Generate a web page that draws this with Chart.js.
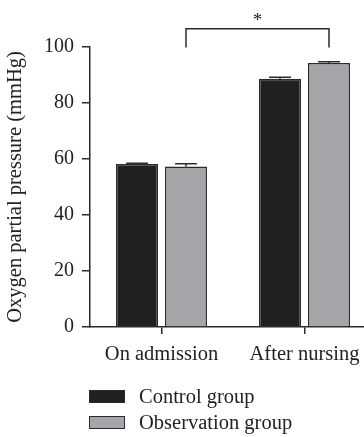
<!DOCTYPE html>
<html>
<head>
<meta charset="utf-8">
<script src="https://cdn.jsdelivr.net/npm/chart.js@4/dist/chart.umd.min.js"></script>
<style>
  html, body { margin: 0; padding: 0; background: #fff; width: 364px; height: 437px; overflow: hidden; }
  #wrap { position: relative; width: 378px; height: 437px; }
  #legend { position: absolute; left: 89px; top: 383px; font-family: "Liberation Serif", serif; font-size: 20.5px; color: #222; }
  .item { display: flex; align-items: center; height: 26px; }
  .box { width: 34px; height: 11px; border: 1.5px solid #2b2b2b; margin-right: 14px; }
</style>
</head>
<body>
<div id="wrap">
  <canvas id="c"></canvas>
  <div id="legend"></div>
</div>
<script>
const categories = ["On admission", "After nursing"];
const seriesNames = ["Control group", "Observation group"];
const controlValues = [58.2, 88.7];
const observationValues = [57.3, 94.3];
const controlErrors = [0.3, 0.5];
const observationErrors = [1.0, 0.4];
const yTicks = [0, 20, 40, 60, 80, 100];
const yTitle = "Oxygen partial pressure (mmHg)";
const significanceMark = "*";
const bracketTopValue = 106.5;
const bracketLegValue = 99.8;
const starValue = 110.5;

const colors = ["#1f2022", "#a6a5a9"];
const lineColor = "#2b2b2b";
const fontFamily = "'Liberation Serif', serif";

const errorPlugin = {
  id: 'errs',
  afterDatasetsDraw(chart) {
    const ctx = chart.ctx;
    const y = chart.scales.y;
    const errs = [controlErrors, observationErrors];
    ctx.save();
    ctx.strokeStyle = lineColor;
    ctx.lineWidth = 1.5;
    chart.data.datasets.forEach((ds, di) => {
      const meta = chart.getDatasetMeta(di);
      meta.data.forEach((bar, i) => {
        const top = y.getPixelForValue(ds.data[i]);
        const cap = y.getPixelForValue(ds.data[i] + errs[di][i]);
        const half = bar.width * 0.26;
        ctx.beginPath();
        ctx.moveTo(bar.x, top);
        ctx.lineTo(bar.x, cap);
        ctx.moveTo(bar.x - half, cap);
        ctx.lineTo(bar.x + half, cap);
        ctx.stroke();
      });
    });
    const m = chart.getDatasetMeta(1);
    const x1 = m.data[0].x, x2 = m.data[1].x;
    const yt = y.getPixelForValue(bracketTopValue);
    const yl = y.getPixelForValue(bracketLegValue);
    ctx.beginPath();
    ctx.moveTo(x1, yl);
    ctx.lineTo(x1, yt);
    ctx.lineTo(x2, yt);
    ctx.lineTo(x2, yl);
    ctx.stroke();
    ctx.fillStyle = '#222';
    ctx.font = "19px " + fontFamily;
    ctx.textAlign = 'center';
    ctx.textBaseline = 'middle';
    ctx.fillText(significanceMark, (x1 + x2) / 2, y.getPixelForValue(starValue) + 3);
    ctx.restore();
  }
};

const chart = new Chart(document.getElementById('c'), {
  type: 'bar',
  data: {
    labels: categories,
    datasets: [
      { label: seriesNames[0], data: controlValues, backgroundColor: colors[0], borderColor: lineColor, borderWidth: 1.5 },
      { label: seriesNames[1], data: observationValues, backgroundColor: colors[1], borderColor: lineColor, borderWidth: 1.5 }
    ]
  },
  options: {
    responsive: true,
    maintainAspectRatio: false,
    animation: false,
    devicePixelRatio: 1,
    layout: { padding: { top: 47, right: 2, left: 0, bottom: 0 } },
    datasets: { bar: { categoryPercentage: 0.685, barPercentage: 0.857 } },
    plugins: { legend: { display: false }, tooltip: { enabled: false } },
    scales: {
      x: {
        grid: { display: true, offset: false, drawOnChartArea: false, tickLength: 7, color: lineColor, lineWidth: 1.5 },
        border: { display: true, color: lineColor, width: 1.5 },
        ticks: { color: '#222', font: { family: fontFamily, size: 20.5 }, padding: 8 },
        afterFit(s) { s.height = 110; }
      },
      y: {
        min: 0, max: 100,
        afterBuildTicks(s) { s.ticks = yTicks.map(v => ({ value: v })); },
        grid: { drawOnChartArea: false, tickLength: 8, color: lineColor, lineWidth: 1.5 },
        border: { display: true, color: lineColor, width: 1.5 },
        ticks: { color: '#222', font: { family: fontFamily, size: 20 }, padding: 8 },
        title: { display: true, text: yTitle, color: '#222', font: { family: fontFamily, size: 20.5 }, padding: { top: 3, bottom: 0 } },
        afterFit(s) { s.width = 90; }
      }
    }
  },
  plugins: [errorPlugin]
});

const legend = document.getElementById('legend');
chart.data.datasets.forEach(ds => {
  const row = document.createElement('div');
  row.className = 'item';
  const b = document.createElement('span');
  b.className = 'box';
  b.style.background = ds.backgroundColor;
  const t = document.createElement('span');
  t.textContent = ds.label;
  row.appendChild(b); row.appendChild(t);
  legend.appendChild(row);
});
</script>
</body>
</html>
